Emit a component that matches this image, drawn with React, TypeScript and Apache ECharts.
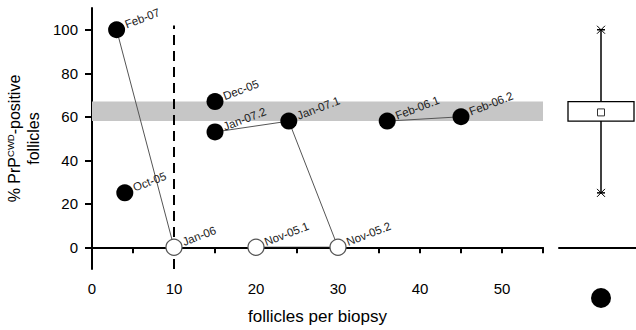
import React, { useEffect, useRef } from 'react';
import * as echarts from 'echarts';

const pointNames = ['Feb-07', 'Oct-05', 'Jan-06', 'Dec-05', 'Jan-07.2', 'Jan-07.1', 'Nov-05.1', 'Nov-05.2', 'Feb-06.1', 'Feb-06.2'];
const folliclesPerBiopsy = [3, 4, 10, 15, 15, 24, 20, 30, 36, 45];
const percentPositive = [100, 25, 0, 67, 53, 58, 0, 0, 58, 60];
const isPositive = [true, true, false, true, true, true, false, false, true, true];
const pairedBiopsies = [
  ['Feb-07', 'Jan-06'],
  ['Jan-07.2', 'Jan-07.1'],
  ['Jan-07.1', 'Nov-05.2'],
  ['Nov-05.1', 'Nov-05.2'],
  ['Feb-06.1', 'Feb-06.2'],
];
const thresholdFollicles = 10;
const thresholdSpan = [-10, 102];
// min, q1, mean, q3, max
const boxValues = [25, 58, 62, 67, 100];
const xTickValues = [0, 5, 10, 15, 20, 25, 30, 35, 40, 45, 50, 55];
const xLabelValues = [0, 10, 20, 30, 40, 50];
const yTickValues = [0, 20, 40, 60, 80, 100];

const FONT = 'Arial, "Liberation Sans", sans-serif';

export default function App() {
  const ref = useRef<HTMLDivElement>(null);
  useEffect(() => {
    if (!ref.current) return;
    const chart = echarts.init(ref.current, undefined, { renderer: 'svg' });
    const idx = (n: string) => pointNames.indexOf(n);
    const pt = (n: string) => [folliclesPerBiopsy[idx(n)], percentPositive[idx(n)]];

    const linkSeries = pairedBiopsies.map(([a, b]) => ({
      type: 'line',
      xAxisIndex: 0,
      yAxisIndex: 0,
      data: [pt(a), pt(b)],
      symbol: 'none',
      lineStyle: { color: a === 'Nov-05.1' ? '#111' : '#555', width: 1 },
      silent: true,
      z: 3,
    }));

    const option: any = {
      animation: false,
      backgroundColor: '#fff',
      textStyle: { fontFamily: FONT },
      grid: [
        { left: 92, top: 8, width: 451, height: 261, outerBoundsMode: 'none', containLabel: false },
        { left: 559, top: 8, width: 84, height: 261, outerBoundsMode: 'none', containLabel: false },
      ],
      xAxis: [
        {
          gridIndex: 0,
          type: 'value',
          min: 0,
          max: 55,
          splitLine: { show: false },
          axisLine: { lineStyle: { color: '#000', width: 2 } },
          axisTick: { customValues: xTickValues, length: 6, lineStyle: { color: '#000', width: 2 } },
          axisLabel: { customValues: xLabelValues, color: '#000', fontSize: 15, margin: 12, fontFamily: FONT },
          name: 'follicles per biopsy',
          nameLocation: 'middle',
          nameGap: 39,
          nameTextStyle: { color: '#000', fontSize: 17, fontFamily: FONT },
        },
        {
          gridIndex: 1,
          type: 'category',
          data: ['positive'],
          axisLine: { lineStyle: { color: '#000', width: 2 } },
          axisTick: { alignWithLabel: true, length: 6, lineStyle: { color: '#000', width: 2 } },
          axisLabel: {
            margin: 19,
            formatter: () => '{dot| }',
            rich: { dot: { width: 20, height: 20, borderRadius: 10, backgroundColor: '#000' } },
          },
        },
      ],
      yAxis: [
        {
          gridIndex: 0,
          type: 'value',
          min: -10,
          max: 110,
          splitLine: { show: false },
          axisLine: { onZero: false, lineStyle: { color: '#000', width: 2 } },
          axisTick: { customValues: yTickValues, length: 7, lineStyle: { color: '#000', width: 2 } },
          axisLabel: { customValues: yTickValues, color: '#000', fontSize: 15, margin: 14, fontFamily: FONT },
          name: '{a|% PrP}{sup|CWD}{a|-positive}\n{a|follicles}',
          nameLocation: 'middle',
          nameRotate: 90,
          nameGap: 49,
          nameTextStyle: {
            rich: {
              a: { fontSize: 16, color: '#000', fontFamily: FONT, lineHeight: 19 },
              sup: { fontSize: 9.5, color: '#000', fontFamily: FONT, verticalAlign: 'top', lineHeight: 19, padding: [0, 0, 8, 0] },
            },
          },
        },
        {
          gridIndex: 1,
          type: 'value',
          min: -10,
          max: 110,
          show: false,
        },
      ],
      series: [
        {
          type: 'line',
          xAxisIndex: 0,
          yAxisIndex: 0,
          data: [
            [thresholdFollicles, thresholdSpan[0]],
            [thresholdFollicles, thresholdSpan[1]],
          ],
          symbol: 'none',
          lineStyle: { color: '#000', width: 2, type: [10, 6] },
          silent: true,
          z: 2,
          markArea: {
            silent: true,
            itemStyle: { color: '#c6c6c6' },
            data: [[{ yAxis: boxValues[1], xAxis: 0 }, { yAxis: boxValues[3], xAxis: 55 }]],
          },
        },
        ...linkSeries,
        {
          type: 'scatter',
          xAxisIndex: 0,
          yAxisIndex: 0,
          z: 5,
          data: pointNames.map((n, i) => ({
            name: n,
            value: [folliclesPerBiopsy[i], percentPositive[i]],
            symbolSize: isPositive[i] ? 17 : 16,
            itemStyle: isPositive[i]
              ? { color: '#000', opacity: 1 }
              : { color: '#fff', borderColor: '#555', borderWidth: 1.2, opacity: 1 },
          })),
          label: {
            show: true,
            position: 'right',
            distance: 1,
            offset: [1, -5],
            rotate: 21,
            formatter: '{b}',
            color: '#222',
            fontSize: 11.5,
            fontFamily: FONT,
          },
        },
        {
          type: 'custom',
          xAxisIndex: 1,
          yAxisIndex: 1,
          data: [[0, ...boxValues]],
          renderItem: (params: any, api: any) => {
            const x = api.coord([0, 0])[0];
            const y = (k: number) => api.coord([0, api.value(k)])[1];
            const yMin = y(1), yQ1 = y(2), yMean = y(3), yQ3 = y(4), yMax = y(5);
            const hw = 33;
            const s = { stroke: '#000', lineWidth: 1.5 };
            const cross = (cy: number) => [
              { type: 'line', shape: { x1: x - 4, y1: cy - 4, x2: x + 4, y2: cy + 4 }, style: { stroke: '#000', lineWidth: 1 } },
              { type: 'line', shape: { x1: x - 4, y1: cy + 4, x2: x + 4, y2: cy - 4 }, style: { stroke: '#000', lineWidth: 1 } },
              { type: 'line', shape: { x1: x - 4, y1: cy, x2: x + 4, y2: cy }, style: { stroke: '#000', lineWidth: 1.5 } },
            ];
            return {
              type: 'group',
              children: [
                { type: 'line', shape: { x1: x, y1: yMax, x2: x, y2: yMin }, style: s },
                { type: 'rect', shape: { x: x - hw, y: yQ3, width: hw * 2, height: yQ1 - yQ3 }, style: { fill: '#fff', stroke: '#000', lineWidth: 1.3 } },
                { type: 'rect', shape: { x: x - 3.5, y: yMean - 3.5, width: 7, height: 7 }, style: { fill: '#fff', stroke: '#333', lineWidth: 1 } },
                ...cross(yMax),
                ...cross(yMin),
              ],
            };
          },
        },
      ],
    };
    chart.setOption(option);
    return () => chart.dispose();
  }, []);
  return <div ref={ref} style={{ width: 636, height: 330, position: 'absolute', left: 0, top: 0 }} />;
}
